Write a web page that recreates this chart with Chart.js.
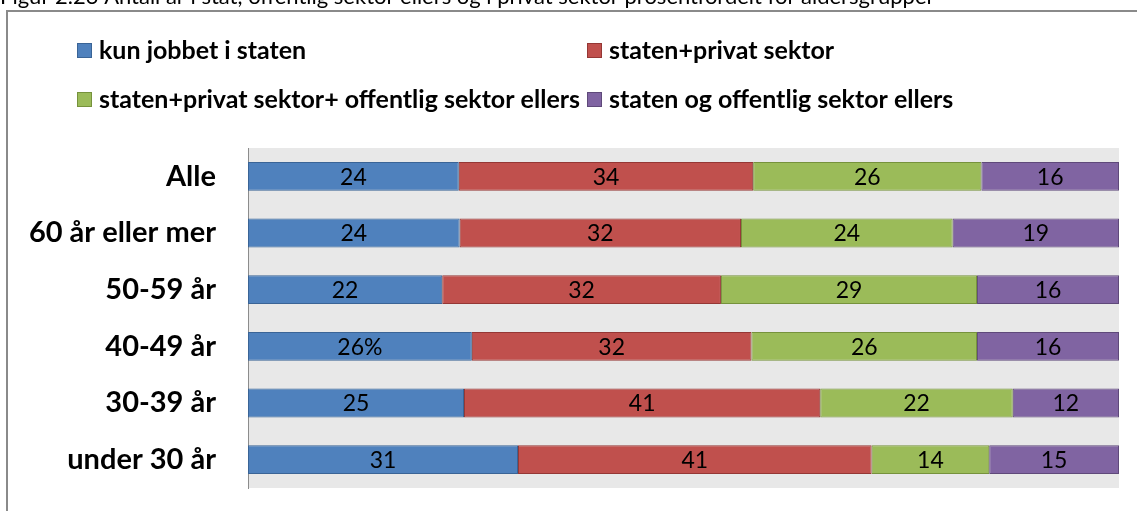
<!DOCTYPE html>
<html>
<head>
<meta charset="utf-8">
<script src="https://cdn.jsdelivr.net/npm/chart.js@4/dist/chart.umd.min.js"></script>
<style>
    html, body { margin: 0; padding: 0; background: #fff; }
    canvas { display: block; }
</style>
</head>
<body>
<canvas id="barChart" width="1137" height="511"></canvas>
<script>
// data (bar lengths in %, printed labels as shown)
var categories = ['Alle', '60 år eller mer', '50-59 år', '40-49 år', '30-39 år', 'under 30 år'];
var seriesNames = [
    'kun jobbet i staten',
    'staten+privat sektor',
    'staten+privat sektor+ offentlig sektor ellers',
    'staten og offentlig sektor ellers'
];
var kunStaten = [24.2, 24.3, 22.3, 25.7, 24.8, 31.0];
var statenPrivat = [33.8, 32.3, 32.0, 32.1, 40.9, 40.6];
var statenPrivatOffentlig = [26.2, 24.3, 29.4, 25.9, 22.1, 13.5];
var statenOffentlig = [15.8, 19.1, 16.3, 16.3, 12.2, 14.9];

var labelsKun = ['24', '24', '22', '26%', '25', '31'];
var labelsPrivat = ['34', '32', '32', '32', '41', '41'];
var labelsPrivatOffentlig = ['26', '24', '29', '26', '22', '14'];
var labelsOffentlig = ['16', '19', '16', '16', '12', '15'];

var title = 'Figur 2.23 Antall år i stat, offentlig sektor ellers og i privat sektor prosentfordelt for aldersgrupper';

var fills = ['#4F81BD', '#C0504D', '#9BBB59', '#8064A2'];
var borders = ['#3A6496', '#953735', '#76923C', '#5F497A'];

var Figure = {
    init: function () {
        var values = [kunStaten, statenPrivat, statenPrivatOffentlig, statenOffentlig];
        var labels = [labelsKun, labelsPrivat, labelsPrivatOffentlig, labelsOffentlig];
        var datasets = [];

        for (var i = 0; i < values.length; i++) {
            datasets.push({
                label: seriesNames[i],
                data: values[i],
                valueLabels: labels[i],
                backgroundColor: fills[i],
                borderColor: borders[i],
                borderWidth: 1,
                borderSkipped: false,
                categoryPercentage: 1,
                barPercentage: 0.51
            });
        }

        new Chart(document.getElementById('barChart'), {
            type: 'bar',
            data: {
                labels: categories,
                datasets: datasets
            },
            options: {
                indexAxis: 'y',
                responsive: false,
                animation: false,
                devicePixelRatio: 1,
                layout: {
                    padding: { left: 0, top: 148, right: 18, bottom: 23 }
                },
                plugins: {
                    legend: { display: false },
                    tooltip: { enabled: false }
                },
                scales: {
                    x: {
                        stacked: true,
                        min: 0,
                        max: 100,
                        display: false
                    },
                    y: {
                        stacked: true,
                        // no grid lines; tickLength only pushes the labels left
                        grid: { display: false, drawTicks: true, tickLength: 32 },
                        border: { display: true, color: '#8C8C8C', width: 1 },
                        ticks: {
                            color: '#000',
                            padding: 0,
                            font: { family: 'Lato', weight: 'bold', size: 29 }
                        },
                        afterFit: function (scale) {
                            scale.width = 248;
                        }
                    }
                }
            },
            plugins: [Figure.frame, Figure.valueLabels]
        });
    },

    // background of plot area, outer frame, title and legend
    frame: {
        id: 'frame',
        beforeDraw: function (chart) {
            var ctx = chart.ctx;
            var area = chart.chartArea;
            ctx.save();
            ctx.fillStyle = '#E8E8E8';
            ctx.fillRect(area.left, area.top, area.right - area.left, area.bottom - area.top);

            ctx.strokeStyle = '#8A8A8A';
            ctx.lineWidth = 2;
            ctx.beginPath();
            ctx.moveTo(1137, 11);
            ctx.lineTo(7, 11);
            ctx.lineTo(7, 511);
            ctx.stroke();

            ctx.fillStyle = '#000';
            ctx.font = '22px Lato';
            ctx.textBaseline = 'alphabetic';
            ctx.textAlign = 'left';
            ctx.fillText(title, 0, 4);

            var cols = [77, 587];
            var rows = [43, 92];
            ctx.font = 'bold 25px Lato';
            ctx.textBaseline = 'middle';
            for (var i = 0; i < seriesNames.length; i++) {
                var x = cols[i % 2];
                var y = rows[Math.floor(i / 2)];
                ctx.fillStyle = fills[i];
                ctx.fillRect(x, y, 15, 15);
                ctx.strokeStyle = borders[i];
                ctx.lineWidth = 1;
                ctx.strokeRect(x + 0.5, y + 0.5, 14, 14);
                ctx.fillStyle = '#000';
                ctx.fillText(seriesNames[i], x + 22, y + 8);
            }
            ctx.restore();
        }
    },

    // numbers centred in each segment
    valueLabels: {
        id: 'valueLabels',
        afterDatasetsDraw: function (chart) {
            var ctx = chart.ctx;
            ctx.save();
            ctx.fillStyle = '#000';
            ctx.font = '23px Lato';
            ctx.textAlign = 'center';
            ctx.textBaseline = 'middle';
            chart.data.datasets.forEach(function (ds, i) {
                chart.getDatasetMeta(i).data.forEach(function (bar, j) {
                    ctx.fillText(ds.valueLabels[j], (bar.x + bar.base) / 2, bar.y + 1);
                });
            });
            ctx.restore();
        }
    }
};

Figure.init();
</script>
</body>
</html>
